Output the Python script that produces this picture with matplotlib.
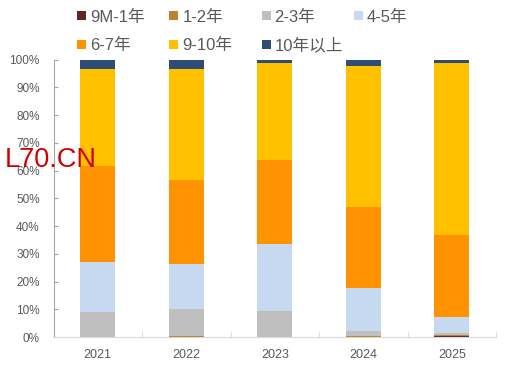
import numpy as np
import matplotlib.pyplot as plt
from matplotlib.patches import Rectangle

plt.rcParams['font.family'] = ['Liberation Sans', 'Noto Sans CJK SC', 'DejaVu Sans']

years = ['2021', '2022', '2023', '2024', '2025']
labels = ['9M-1年', '1-2年', '2-3年', '4-5年', '6-7年', '9-10年', '10年以上']
colors = ['#632523', '#C0822C', '#BFBFBF', '#C6D9F0', '#FF9200', '#FFC000', '#2E4D75']

# share of each maturity bucket (%)
m9_1y = [0.0, 0.0, 0.0, 0.0, 0.5]
y1_2 = [0.0, 0.4, 0.0, 0.4, 0.2]
y2_3 = [9.0, 9.6, 9.3, 1.8, 0.6]
y4_5 = [18.2, 16.3, 24.1, 15.5, 5.8]
y6_7 = [34.4, 30.4, 30.5, 29.2, 29.8]
y9_10 = [34.9, 39.7, 34.8, 50.9, 61.7]
y10p = [3.5, 3.6, 1.3, 2.2, 1.4]
series = [m9_1y, y1_2, y2_3, y4_5, y6_7, y9_10, y10p]

W, H = 511, 376
fig = plt.figure(figsize=(W / 100, H / 100), dpi=100)
ax = fig.add_axes([53.5 / W, 39 / H, 442.5 / W, 277.5 / H])

x = np.arange(len(years))
bottom = np.zeros(len(years))
for vals, c in zip(series, colors):
    ax.bar(x, vals, 0.4, bottom=bottom, color=c, edgecolor='none')
    bottom += np.array(vals)

ax.set_xlim(-0.5, 4.5)
ax.set_ylim(0, 100)
ax.set_yticks(np.arange(0, 101, 10))
ax.set_yticklabels([f'{v}%' for v in range(0, 101, 10)])
ax.set_xticks(x)
ax.set_xticklabels(years)
ax.set_xticks(np.arange(0.5, 4.6, 1), minor=True)

for s in ['top', 'right']:
    ax.spines[s].set_visible(False)
ax.spines['left'].set_color('#A6A6A6')
ax.spines['bottom'].set_color('#D9D9D9')
ax.tick_params(axis='y', colors='#A6A6A6', labelcolor='#595959', labelsize=8.5,
               length=3, direction='in', pad=10)
ax.tick_params(axis='x', which='major', length=0, labelcolor='#595959', labelsize=9, pad=9)
ax.tick_params(axis='x', which='minor', length=4, direction='in', color='#D9D9D9')

# legend, laid out in rows of four like the original
for i, (lab, c) in enumerate(zip(labels, colors)):
    row, col = divmod(i, 4)
    px = 77 + 92.3 * col
    py = 15.5 + 28.5 * row
    fig.patches.append(Rectangle((px / W, 1 - (py + 4.5) / H), 9 / W, 9 / H,
                                 transform=fig.transFigure, facecolor=c,
                                 edgecolor='none'))
    fig.text((px + 13) / W, 1 - py / H, lab, fontsize=12, color='#595959',
             va='center_baseline', ha='left')

# watermark
fig.text(5 / W, 1 - 167 / H, 'L70.CN', color='#D00000', fontsize=19.5,
         va='baseline', ha='left')

fig.savefig('out.png', dpi=100)
